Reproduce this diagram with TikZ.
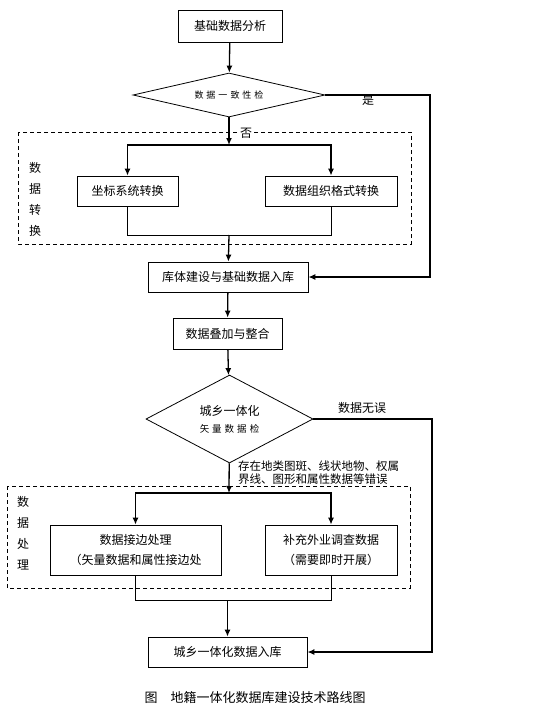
\documentclass[tikz,border=0pt]{standalone}
\usepackage{fontspec}
\setmainfont{Noto Sans CJK SC}
\usetikzlibrary{arrows.meta, shapes, positioning}
\newcommand{\chkgap}{\hspace{3pt}}

\begin{document}
\begin{tikzpicture}[x=1pt, y=-1pt,
    box/.style={draw, line width=0.8pt, inner sep=0pt, font=\fontsize{12}{20}\selectfont},
    chk/.style={draw, diamond, line width=0.8pt, inner sep=0pt},
    arr/.style={-{Latex[length=7pt,width=6pt]}, line width=1.3pt},
    link/.style={line width=0.8pt},
    dashbox/.style={draw, line width=0.8pt, dash pattern=on 4pt off 3pt},
    lbl/.style={font=\fontsize{12}{14}\selectfont},
    side/.style={font=\fontsize{12}{21}\selectfont, align=center}]
    \useasboundingbox (0,0) rectangle (554,728);

    % main column
    \node[box, minimum width=104pt, minimum height=32pt] (ana) at (230,26) {基础数据分析};
    \node[chk, minimum width=192pt, minimum height=44pt, aspect=4.4,
          font=\fontsize{9}{11}\selectfont] (chk1) at (229,95)
          {数\chkgap 据\chkgap 一\chkgap 致\chkgap 性\chkgap 检};
    \node[box, minimum width=101pt, minimum height=30pt] (coord) at (127.5,191) {坐标系统转换};
    \node[box, minimum width=132pt, minimum height=30pt] (fmt) at (331,191) {数据组织格式转换};
    \node[box, minimum width=160pt, minimum height=30pt] (base) at (228,277) {库体建设与基础数据入库};
    \node[box, minimum width=109pt, minimum height=31pt] (mix) at (227.5,333.5) {数据叠加与整合};
    \node[chk, minimum width=167pt, minimum height=88pt, aspect=1.9, align=center,
          font=\fontsize{12}{14}\selectfont] (chk2) at (229.5,419)
          {城乡一体化\\[3pt]{\fontsize{9.5}{11}\selectfont 矢\chkgap 量\chkgap 数\chkgap 据\chkgap 检}};
    \node[box, minimum width=171pt, minimum height=50pt, align=center] (edge) at (135.5,550)
          {数据接边处理\\（矢量数据和属性接边处};
    \node[box, minimum width=132pt, minimum height=50pt, align=center] (supp) at (331,550)
          {补充外业调查数据\\（需要即时开展）};
    \node[box, minimum width=159pt, minimum height=30pt] (city) at (227.5,652) {城乡一体化数据入库};

    % dashed groups
    \draw[dashbox] (18,132) rectangle (411,244);
    \draw[dashbox] (7,486) rectangle (410,588);
    \node[side] (grp1) at (35,199) {数\\据\\转\\换};
    \node[side] (grp2) at (23,533.5) {数\\据\\处\\理};

    % labels
    \node[lbl] (yes) at (368,100) {是};
    \node[lbl, fill=white, inner sep=1pt] (no) at (246,133) {否};
    \node[lbl] (ok) at (362,408) {数据无误};
    \node[anchor=west, align=left, inner sep=0pt, font=\fontsize{11.5}{13.5}\selectfont] (err) at (238,472.5)
          {存在地类图斑、线状地物、权属\\界线、图形和属性数据等错误};
    \node[font=\fontsize{13}{15}\selectfont] (cap) at (255,698) {图\quad 地籍一体化数据库建设技术路线图};

    \coordinate (split1) at (229,145);
    \coordinate (join1) at (229,235);
    \coordinate (r1) at (430,277);
    \coordinate (split2) at (229,493);
    \coordinate (join2) at (227.5,600);
    \coordinate (r2) at (432,652);

    \draw[arr] (ana) -- (chk1);
    \draw[arr] (chk1) -- (split1);
    \draw[arr] (split1) -| (coord);
    \draw[arr] (split1) -| (fmt);
    \draw[link] (coord) |- (join1);
    \draw[link] (fmt) |- (join1);
    \draw[arr] (join1) -- (base);
    \draw[arr] (chk1.east) -| (r1) -- (base.east);
    \draw[arr] (base) -- (mix);
    \draw[arr] (mix) -- (chk2);
    \draw[arr] (chk2) -- (split2);
    \draw[arr] (split2) -| (edge);
    \draw[arr] (split2) -| (supp);
    \draw[link] (edge) |- (join2);
    \draw[link] (supp) |- (join2);
    \draw[arr] (join2) -- (city);
    \draw[arr] (chk2.east) -| (r2) -- (city.east);
\end{tikzpicture}
\end{document}
